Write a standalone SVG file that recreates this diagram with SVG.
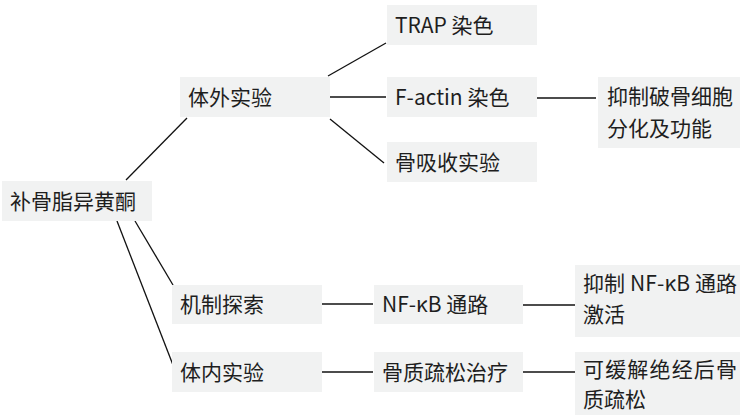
<svg xmlns="http://www.w3.org/2000/svg" width="740" height="415" viewBox="0 0 740 415">
<style>
.box{fill:#f1f2f2;stroke:none}
text{font-family:"Noto Sans CJK SC","Noto Sans",sans-serif;font-size:21px;fill:#1e1e1e}
.c line{stroke:#111;stroke-width:1.3}
</style>
<rect width="740" height="415" fill="#fff"/>
<g class="c" id="connectors">
<line x1="126" y1="180" x2="187" y2="118"/>
<line x1="135" y1="221" x2="173" y2="285"/>
<line x1="117" y1="221" x2="173" y2="365"/>
<line x1="328" y1="76" x2="386" y2="43"/>
<line x1="330" y1="97" x2="386" y2="97"/>
<line x1="330" y1="119" x2="384" y2="163"/>
<line x1="537" y1="98" x2="596" y2="98"/>
<line x1="322" y1="304" x2="373" y2="304"/>
<line x1="523" y1="305" x2="575" y2="305"/>
<line x1="322" y1="372" x2="373" y2="372"/>
<line x1="523" y1="372" x2="575" y2="372"/>
</g>
<g id="root"><rect class="box" x="2" y="181" width="150" height="40"/><text x="10" y="209">补骨脂异黄酮</text></g>
<g id="invitro"><rect class="box" x="180" y="77" width="150" height="40"/><text x="188" y="105">体外实验</text></g>
<g id="trap"><rect class="box" x="387" y="5" width="150" height="40"/><text x="395" y="33">TRAP 染色</text></g>
<g id="factin"><rect class="box" x="387" y="77" width="150" height="40"/><text x="395" y="105">F-actin 染色</text></g>
<g id="resorb"><rect class="box" x="387" y="142" width="150" height="40"/><text x="395" y="170">骨吸收实验</text></g>
<g id="inhibit"><rect class="box" x="598" y="77" width="142" height="71"/><text x="607" y="104">抑制破骨细胞</text><text x="607" y="136">分化及功能</text></g>
<g id="mech"><rect class="box" x="172" y="285" width="150" height="39"/><text x="180" y="312">机制探索</text></g>
<g id="invivo"><rect class="box" x="172" y="352" width="150" height="40"/><text x="180" y="380">体内实验</text></g>
<g id="nfkb"><rect class="box" x="374" y="285" width="149" height="39"/><text x="382" y="312">NF-κB 通路</text></g>
<g id="osteo"><rect class="box" x="374" y="352" width="149" height="40"/><text x="382" y="380">骨质疏松治疗</text></g>
<g id="inhibitnf"><rect class="box" x="575" y="265" width="165" height="72"/><text x="583" y="291" textLength="154" lengthAdjust="spacing">抑制 NF-κB 通路</text><text x="583" y="322">激活</text></g>
<g id="relieve"><rect class="box" x="575" y="352" width="165" height="63"/><text x="583" y="377" textLength="154" lengthAdjust="spacing">可缓解绝经后骨</text><text x="583" y="407">质疏松</text></g>
</svg>
